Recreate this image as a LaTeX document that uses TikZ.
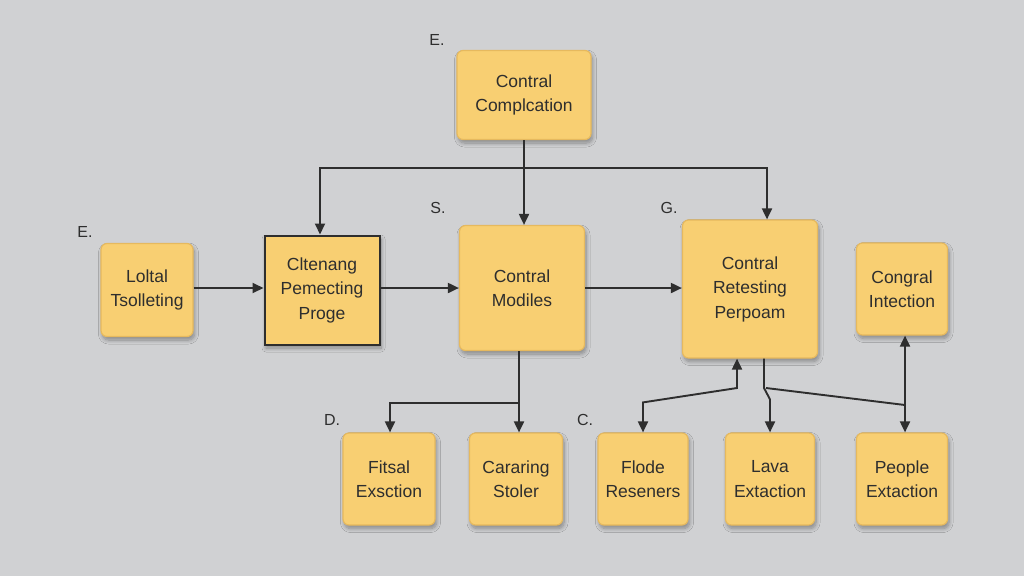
\documentclass[tikz,border=0pt]{standalone}
\usepackage{fontspec}
\setmainfont{Liberation Sans}
\usetikzlibrary{arrows.meta,shadows.blur,calc}
\definecolor{bg}{HTML}{D0D1D3}
\definecolor{boxfill}{HTML}{F8CF72}
\definecolor{boxline}{HTML}{E6B95E}
\definecolor{ink}{HTML}{2E2E2E}
\tikzset{
  box/.style={draw=boxline, line width=1.2pt, fill=boxfill, rounded corners=6pt,
    align=center, font=\fontsize{17.5}{24.5}\selectfont, text=ink, inner sep=0pt,
    blur shadow={shadow xshift=1.5pt, shadow yshift=-3.5pt, shadow blur steps=8, shadow blur radius=4pt, shadow opacity=35}},
  sqbox/.style={draw=ink, line width=2pt, fill=boxfill, sharp corners,
    align=center, font=\fontsize{17.5}{24.5}\selectfont, text=ink, inner sep=0pt,
    blur shadow={shadow xshift=1.5pt, shadow yshift=-3.5pt, shadow blur steps=8, shadow blur radius=4pt, shadow opacity=35}},
  tip/.tip={Triangle[length=11pt,width=10pt]},
  conn/.style={draw=ink, line width=1.9pt, -tip},
  dconn/.style={draw=ink, line width=1.9pt, tip-tip},
  plainconn/.style={draw=ink, line width=1.9pt},
  tag/.style={font=\fontsize{16}{16}\selectfont, text=ink}
}
\begin{document}
\begin{tikzpicture}[x=1pt,y=-1pt]
\fill[bg] (0,0) rectangle (1024,576);
\useasboundingbox (0,0) rectangle (1024,576);

% nodes
\node[box, minimum width=134pt, minimum height=89pt] (top) at (524,95) {Contral\\Complcation};
\node[box, minimum width=92pt, minimum height=93pt] (loltal) at (147,290) {Loltal\\Tsolleting};
\node[sqbox, minimum width=115pt, minimum height=109pt] (clt) at (322,290) {Cltenang\\Pemecting\\Proge};
\node[box, minimum width=125pt, minimum height=125pt] (mod) at (522,288) {Contral\\Modiles};
\node[box, minimum width=135pt, minimum height=138pt] (ret) at (750,289) {Contral\\Retesting\\Perpoam};
\node[box, minimum width=91pt, minimum height=92pt] (cong) at (902,289) {Congral\\Intection};
\node[box, minimum width=92pt, minimum height=92pt] (fit) at (389,479) {Fitsal\\Exsction};
\node[box, minimum width=93pt, minimum height=92pt] (car) at (516,479) {Cararing\\Stoler};
\node[box, minimum width=90pt, minimum height=92pt] (flo) at (643,479) {Flode\\Reseners};
\node[box, minimum width=89pt, minimum height=92pt] (lava) at (770,479) {Lava\\Extaction};
\node[box, minimum width=91pt, minimum height=92pt] (peo) at (902,479) {People\\Extaction};

% letter tags
\node[tag] (t1) at (437,40) {E.};
\node[tag] (t2) at (85,232) {E.};
\node[tag] (t3) at (438,208) {S.};
\node[tag] (t4) at (669,208) {G.};
\node[tag] (t5) at (332,420) {D.};
\node[tag] (t6) at (585,420) {C.};

% junction coordinates
\coordinate (row) at (0,288);
\coordinate (j1) at (524,168);
\coordinate (j2) at (519,403);
\coordinate (j3) at (737,388);
\coordinate (j4) at (764,388);
\coordinate (j5) at (905,405);

% top fan-out
\draw[plainconn] (top.south) -- (j1);
\draw[conn] (j1) -| ($(clt.north)+(-2,0)$);
\draw[conn] (j1) -- (j1 |- mod.north);
\draw[conn] (j1) -| ($(ret.north)+(17,0)$);

% main chain
\draw[conn] (loltal.east |- row) -- (clt.west |- row);
\draw[conn] (clt.east |- row) -- (mod.west |- row);
\draw[conn] (mod.east |- row) -- (ret.west |- row);

% modules fan-out
\draw[plainconn] (j2 |- mod.south) -- (j2);
\draw[conn] (j2) -| ($(fit.north)+(1,0)$);
\draw[conn] (j2) -- (j2 |- car.north);

% flode <-> retesting
\draw[dconn] (flo.north) -- ($(flo.north)+(0,-30)$) -- (j3) -- (j3 |- ret.south);

% retesting -> lava
\draw[conn] (j4 |- ret.south) -- (j4) -- ($(lava.north)+(0,-33)$) -- (lava.north);
% branch to people column
\draw[plainconn] ($(j4)+(2,0)$) -- (j5);
\draw[dconn] (j5 |- cong.south) -- (j5 |- peo.north);
\end{tikzpicture}
\end{document}
